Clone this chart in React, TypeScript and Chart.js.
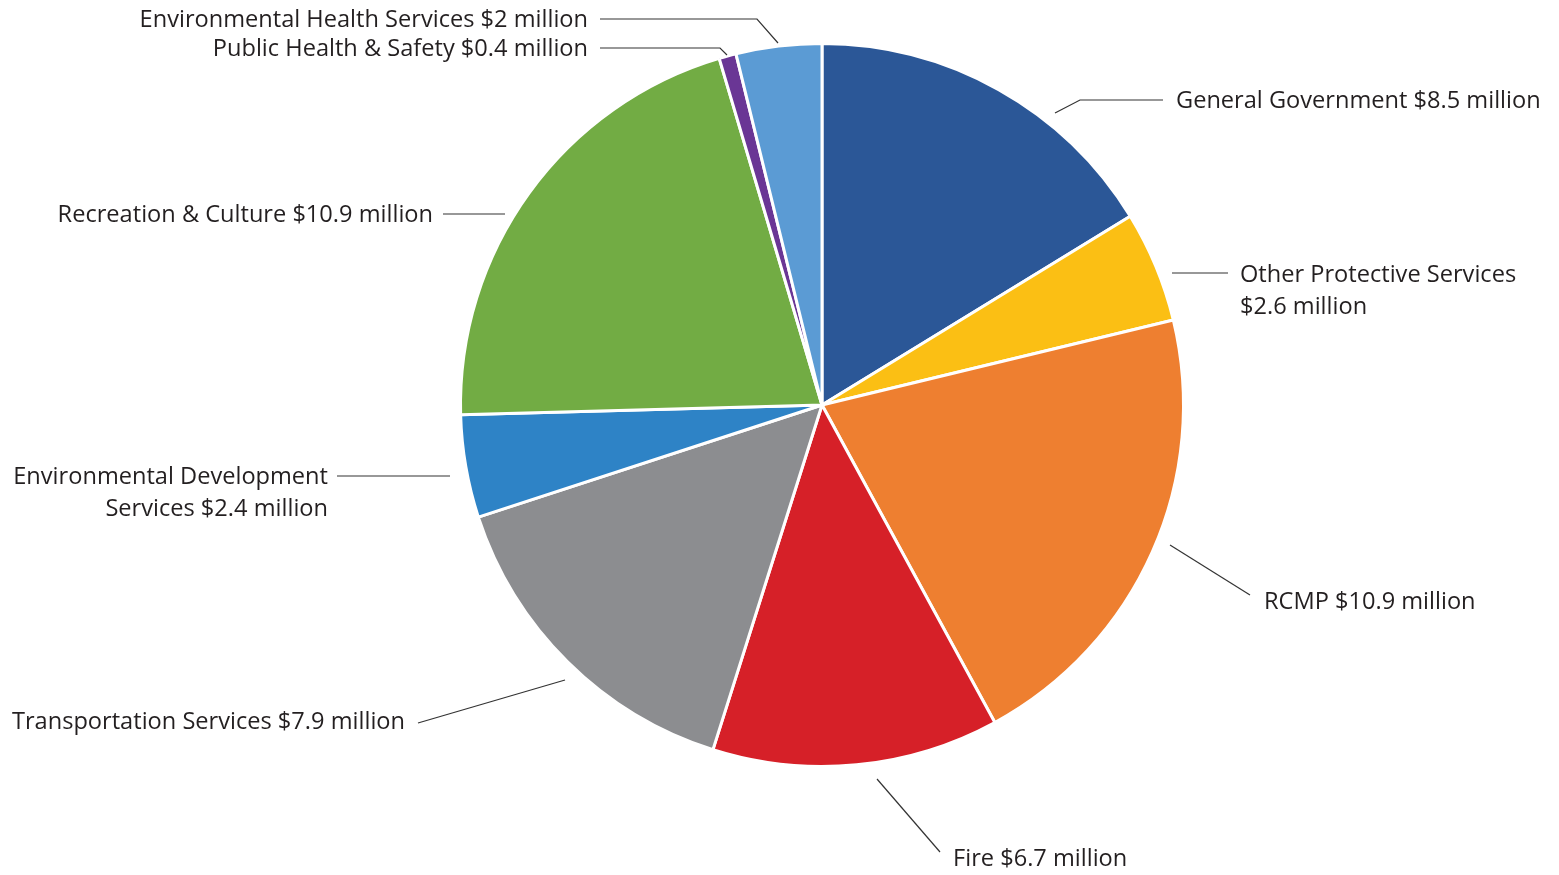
import React, { useEffect, useRef } from "react";
import { Chart, registerables } from "chart.js";

Chart.register(...registerables);

const categories = [
  "General Government",
  "Other Protective Services",
  "RCMP",
  "Fire",
  "Transportation Services",
  "Environmental Development Services",
  "Recreation & Culture",
  "Public Health & Safety",
  "Environmental Health Services",
];

const values = [8.5, 2.6, 10.9, 6.7, 7.9, 2.4, 10.9, 0.4, 2];

const valueLabels = [
  "$8.5 million",
  "$2.6 million",
  "$10.9 million",
  "$6.7 million",
  "$7.9 million",
  "$2.4 million",
  "$10.9 million",
  "$0.4 million",
  "$2 million",
];

const colors = [
  "#2B5797",
  "#FBBF14",
  "#EE7F30",
  "#D62028",
  "#8C8D90",
  "#2E83C6",
  "#72AC44",
  "#6A3695",
  "#5B9BD4",
];

// Label text lines (as shown in the chart)
const labelLines: string[][] = [
  ["General Government $8.5 million"],
  ["Other Protective Services", "$2.6 million"],
  ["RCMP $10.9 million"],
  ["Fire $6.7 million"],
  ["Transportation Services $7.9 million"],
  ["Environmental Development", "Services $2.4 million"],
  ["Recreation & Culture $10.9 million"],
  ["Public Health & Safety $0.4 million"],
  ["Environmental Health Services $2 million"],
];

// Leader-line layout, offsets in px relative to the pie centre
type Layout = { path: [number, number][]; tx: number; ty: number; align: "left" | "right" };
const labelLayout: Layout[] = [
  { path: [[233, -292], [258, -305], [341, -305]], tx: 354, ty: -304, align: "left" },
  { path: [[350, -132], [406, -132]], tx: 418, ty: -130, align: "left" },
  { path: [[348, 140], [428, 190]], tx: 442, ty: 197, align: "left" },
  { path: [[55, 374], [118, 447]], tx: 131, ty: 454, align: "left" },
  { path: [[-257, 275], [-404, 318]], tx: -417, ty: 317, align: "right" },
  { path: [[-372, 71], [-485, 71]], tx: -494, ty: 72, align: "right" },
  { path: [[-317, -191], [-379, -191]], tx: -389, ty: -190, align: "right" },
  { path: [[-95, -350], [-102, -357], [-222, -357]], tx: -234, ty: -356, align: "right" },
  { path: [[-44, -362], [-65, -386], [-222, -386]], tx: -234, ty: -385, align: "right" },
];

const FONT = '23.6px "Open Sans", "Noto Sans", sans-serif';
const LINE_H = 32;

const labelPlugin = {
  id: "pieLabels",
  afterDraw(chart: any) {
    const meta = chart.getDatasetMeta(0);
    if (!meta || !meta.data.length) return;
    const cx = meta.data[0].x;
    const cy = meta.data[0].y;
    const ctx = chart.ctx;
    ctx.save();
    ctx.strokeStyle = "#333333";
    ctx.lineWidth = 1.2;
    ctx.fillStyle = "#231F20";
    ctx.font = FONT;
    ctx.textBaseline = "middle";
    labelLayout.forEach((l, i) => {
      ctx.beginPath();
      l.path.forEach(([dx, dy], j) => {
        if (j === 0) ctx.moveTo(cx + dx, cy + dy);
        else ctx.lineTo(cx + dx, cy + dy);
      });
      ctx.stroke();
      ctx.textAlign = l.align;
      labelLines[i].forEach((line, k) => {
        ctx.fillText(line, cx + l.tx, cy + l.ty + k * LINE_H);
      });
    });
    ctx.restore();
  },
};

export default function App() {
  const ref = useRef<HTMLCanvasElement>(null);
  useEffect(() => {
    if (!ref.current) return;
    const chart = new Chart(ref.current, {
      type: "pie",
      data: {
        labels: categories.map((c, i) => c + " " + valueLabels[i]),
        datasets: [
          {
            data: values,
            backgroundColor: colors,
            borderColor: "#ffffff",
            borderWidth: 3,
          },
        ],
      },
      options: {
        responsive: false,
        animation: false,
        layout: { padding: { left: 459, right: 374, top: 42, bottom: 107 } },
        plugins: {
          legend: { display: false },
          tooltip: { enabled: false },
        },
      },
      plugins: [labelPlugin],
    });
    return () => chart.destroy();
  }, []);
  return (
    <div style={{ position: "fixed", left: 0, top: 0, width: 1559, height: 875, background: "#fff" }}>
      <canvas ref={ref} width={1559} height={875} style={{ width: 1559, height: 875 }} />
    </div>
  );
}
